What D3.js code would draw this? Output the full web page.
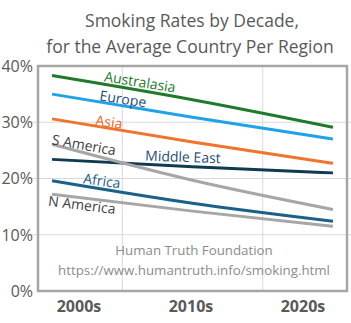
<!DOCTYPE html>
<html>
<head>
<meta charset="utf-8">
<script src="https://cdn.jsdelivr.net/npm/d3@7"></script>
<style>
  body { margin: 0; background: #fff; }
  text { font-family: "Open Sans", "Noto Sans", sans-serif; }
</style>
</head>
<body>
<div class="chart"></div>
<script>
const svgWidth = 351
const svgHeight = 323

let margin = { top: 66, right: 4, bottom: 32, left: 38 }
let width = svgWidth - margin.left - margin.right
let height = svgHeight - margin.top - margin.bottom

// data (percent smokers)
const decades = ["2000s", "2010s", "2020s"]
const regions = ["Australasia", "Europe", "Asia", "S America", "Middle East", "Africa", "N America"]
const australasia = [38.3, 34.0, 29.1]
const europe = [35.0, 30.9, 27.0]
const asia = [30.6, 26.5, 22.7]
const sAmerica = [26.1, 19.7, 14.5]
const middleEast = [23.4, 22.1, 21.0]
const africa = [19.6, 15.6, 12.4]
const nAmerica = [17.2, 14.2, 11.5]
const yTicks = [0, 10, 20, 30, 40]

let series = [
  { name: "Australasia", values: australasia, color: "#217a2b", label: "#217a2b", lx: 140, ly: 82, rot: 9 },
  { name: "Europe", values: europe, color: "#1fa3e6", label: "#1f4e79", lx: 123, ly: 99, rot: 9 },
  { name: "Asia", values: asia, color: "#f0732f", label: "#e9692a", lx: 109, ly: 122, rot: 8 },
  { name: "S America", values: sAmerica, color: "#a6a6a6", label: "#404040", lx: 84, ly: 145, rot: 10 },
  { name: "Middle East", values: middleEast, color: "#0e3a52", label: "#1f4e79", lx: 183, ly: 157, rot: 2 },
  { name: "Africa", values: africa, color: "#1b6187", label: "#1b6187", lx: 102, ly: 181, rot: 8 },
  { name: "N America", values: nAmerica, color: "#a6a6a6", label: "#404040", lx: 82, ly: 205, rot: 7 }
]

let svg = d3.select(".chart")
  .append("svg")
  .attr("width", svgWidth)
  .attr("height", svgHeight)

// title
let title = svg.append("text")
  .attr("text-anchor", "middle")
  .attr("fill", "#595959")
  .style("font-size", "17.5px")
title.append("tspan").attr("x", 192).attr("y", 27).text("Smoking Rates by Decade,")
title.append("tspan").attr("x", 190).attr("y", 53).text("for the Average Country Per Region")

let chartGroup = svg.append("g")
  .attr("transform", `translate(${margin.left}, ${margin.top})`)

let x = d3.scalePoint().domain(decades).range([0, width]).padding(0.1)
let step = x.step()
let xLabel = d3.scalePoint().domain(decades).range([41, 265])
let y = d3.scaleLinear().domain([0, 40]).range([height, 0])

// horizontal gridlines
chartGroup.append("g")
  .selectAll("line")
  .data(yTicks.slice(1, 4))
  .enter()
  .append("line")
  .attr("x1", -7)
  .attr("x2", width + 5)
  .attr("y1", d => y(d))
  .attr("y2", d => y(d))
  .attr("stroke", "#d9d9d9")
  .attr("stroke-width", 1)

// vertical gridlines between categories
chartGroup.append("g")
  .selectAll("line")
  .data(decades.slice(1))
  .enter()
  .append("line")
  .attr("x1", d => x(d) - step / 2)
  .attr("x2", d => x(d) - step / 2)
  .attr("y1", 0)
  .attr("y2", height)
  .attr("stroke", "#d9d9d9")
  .attr("stroke-width", 1)

// frame
chartGroup.append("path")
  .attr("d", `M0,${height}V0H${width}V${height}Z`)
  .attr("fill", "none")
  .attr("stroke", "#a6a6a6")
  .attr("stroke-width", 2.5)

// y axis labels
chartGroup.append("g")
  .selectAll("text")
  .data(yTicks)
  .enter()
  .append("text")
  .attr("x", -5)
  .attr("y", d => y(d))
  .attr("dy", "0.36em")
  .attr("text-anchor", "end")
  .attr("fill", "#595959")
  .style("font-size", "16px")
  .text(d => d + "%")

// x axis labels
chartGroup.append("g")
  .selectAll("text")
  .data(decades)
  .enter()
  .append("text")
  .attr("x", d => xLabel(d))
  .attr("y", height + 21)
  .attr("text-anchor", "middle")
  .attr("fill", "#595959")
  .style("font-size", "16px")
  .style("font-weight", "bold")
  .text(d => d)

// watermark
chartGroup.append("text")
  .attr("x", 156)
  .attr("y", 189)
  .attr("text-anchor", "middle")
  .attr("fill", "#8c8c8c")
  .style("font-size", "13.3px")
  .text("Human Truth Foundation")

chartGroup.append("text")
  .attr("x", 156)
  .attr("y", 209)
  .attr("text-anchor", "middle")
  .attr("fill", "#8c8c8c")
  .style("font-size", "13.3px")
  .text("https://www.humantruth.info/smoking.html")

let line = d3.line()
  .x((d, i) => x(decades[i]))
  .y(d => y(d))
  .curve(d3.curveMonotoneX)

// draw bottom-most first so top series sit above
chartGroup.append("g")
  .selectAll("path")
  .data(series.slice().reverse())
  .enter()
  .append("path")
  .attr("d", d => line(d.values))
  .attr("fill", "none")
  .attr("stroke", d => d.color)
  .attr("stroke-width", 3)

// series labels
svg.append("g")
  .selectAll("text")
  .data(series)
  .enter()
  .append("text")
  .attr("transform", d => `translate(${d.lx}, ${d.ly}) rotate(${d.rot})`)
  .attr("text-anchor", "middle")
  .attr("dy", "0.35em")
  .attr("fill", d => d.label)
  .style("font-size", "14px")
  .text(d => d.name)
</script>
</body>
</html>
